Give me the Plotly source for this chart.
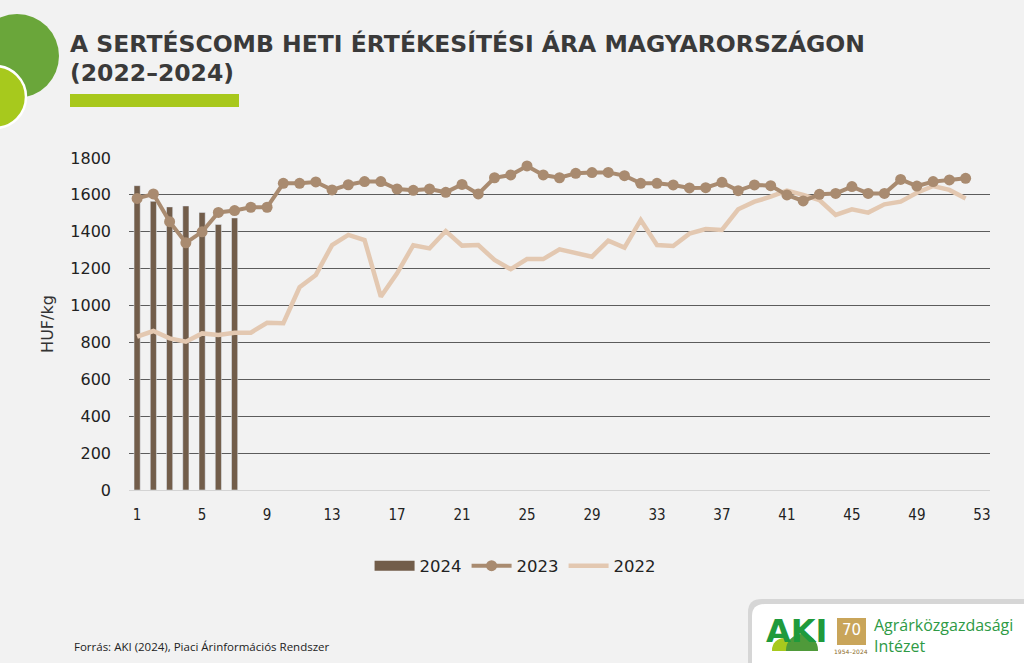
import plotly.graph_objects as go

# ---------------- data ----------------
weeks_2024 = [1, 2, 3, 4, 5, 6, 7]
vals_2024 = [1650, 1565, 1535, 1540, 1505, 1440, 1475]

weeks = list(range(1, 53))
vals_2023 = [1581, 1605, 1455, 1340, 1400, 1505, 1515, 1533, 1533, 1663,
             1663, 1670, 1627, 1655, 1672, 1672, 1632, 1625, 1632, 1614,
             1657, 1605, 1693, 1708, 1757, 1708, 1693, 1717, 1721, 1722,
             1704, 1663, 1663, 1654, 1638, 1639, 1668, 1623, 1654, 1650,
             1600, 1567, 1603, 1608, 1645, 1608, 1608, 1684, 1648, 1672,
             1681, 1690]
vals_2022 = [831, 862, 822, 804, 849, 840, 853, 853, 907, 904,
             1099, 1166, 1328, 1383, 1355, 1048, 1175, 1327, 1310, 1404,
             1325, 1328, 1247, 1197, 1252, 1252, 1305, 1283, 1265, 1352,
             1314, 1464, 1328, 1323, 1390, 1415, 1410, 1522, 1563, 1590,
             1623, 1600, 1572, 1491, 1522, 1504, 1549, 1563, 1612, 1648,
             1627, 1581]
x_ticks = list(range(1, 54, 4))
y_ticks = list(range(0, 1801, 200))

# ---------------- layout helpers ----------------
W, H = 1024, 663
L, R, T, B = 129, 990, 158, 490


def px(x):
    return (x - L) / (R - L)


def py(y):
    return (B - y) / (B - T)


BG = "#f2f2f2"
C24 = "#725d4a"
C23 = "#a98b70"
C22 = "#e3c8b1"
FONT = "DejaVu Sans"

fig = go.Figure()
fig.add_trace(go.Bar(x=weeks_2024, y=vals_2024, name="2024", marker_color=C24,
                     width=0.38, showlegend=False))
# legend-only entry giving the wide rectangular swatch of the 2024 series
fig.add_trace(go.Scatter(x=[None], y=[None], name="2024", mode="lines",
                         line=dict(color=C24, width=12), legendrank=1))
fig.add_trace(go.Scatter(x=weeks, y=vals_2022, name="2022", mode="lines",
                         line=dict(color=C22, width=4.5), legendrank=3))
fig.add_trace(go.Scatter(x=weeks, y=vals_2023, name="2023", mode="lines+markers",
                         line=dict(color=C23, width=4),
                         marker=dict(size=11, color=C23), legendrank=2))

shapes = []
# decorative circles top-left
shapes.append(dict(type="circle", xref="paper", yref="paper",
                   x0=px(17 - 42), x1=px(17 + 42), y0=py(56 + 42), y1=py(56 - 42),
                   fillcolor="#6aa63a", line=dict(width=0), layer="above"))
shapes.append(dict(type="circle", xref="paper", yref="paper",
                   x0=px(-5 - 31), x1=px(-5 + 31), y0=py(97 + 31), y1=py(97 - 31),
                   fillcolor="#a7c91d", line=dict(width=2.5, color="#ffffff"), layer="above"))
# lime underline under title
shapes.append(dict(type="rect", xref="paper", yref="paper",
                   x0=px(70), x1=px(239), y0=py(107), y1=py(94),
                   fillcolor="#a8c81c", line=dict(width=0), layer="above"))
# logo box shadow + box
shapes.append(dict(type="path", xref="paper", yref="paper",
                   path=(f"M {px(748)} {py(663)} L {px(748)} {py(612)} "
                         f"Q {px(748)} {py(599)} {px(762)} {py(599)} L {px(1024)} {py(599)} "
                         f"L {px(1024)} {py(663)} Z"),
                   fillcolor="#d6d6d6", line=dict(width=0), layer="above"))
shapes.append(dict(type="path", xref="paper", yref="paper",
                   path=(f"M {px(752)} {py(663)} L {px(752)} {py(616)} "
                         f"Q {px(752)} {py(604)} {px(765)} {py(604)} L {px(1024)} {py(604)} "
                         f"L {px(1024)} {py(663)} Z"),
                   fillcolor="#ffffff", line=dict(width=0), layer="above"))
# AKI small mounds
shapes.append(dict(type="circle", xref="paper", yref="paper",
                   x0=px(772), x1=px(796), y0=py(662), y1=py(638),
                   fillcolor="#a7c91d", line=dict(width=0), layer="above"))
shapes.append(dict(type="circle", xref="paper", yref="paper",
                   x0=px(786), x1=px(818), y0=py(666), y1=py(634),
                   fillcolor="#4f9a3a", line=dict(width=0), layer="above"))
shapes.append(dict(type="rect", xref="paper", yref="paper",
                   x0=px(752), x1=px(830), y0=py(663), y1=py(651),
                   fillcolor="#ffffff", line=dict(width=0), layer="above"))
# 70 emblem
shapes.append(dict(type="rect", xref="paper", yref="paper",
                   x0=px(837), x1=px(866), y0=py(645), y1=py(618),
                   fillcolor="#c9a55a", line=dict(width=0), layer="above"))

annotations = [
    dict(text="<b>A SERTÉSCOMB HETI ÉRTÉKESÍTÉSI ÁRA MAGYARORSZÁGON</b>",
         xref="paper", yref="paper", x=px(68), y=py(44), xanchor="left", yanchor="middle",
         showarrow=False, font=dict(family=FONT, size=23.5, color="#3a3a3a")),
    dict(text="<b>(2022–2024)</b>",
         xref="paper", yref="paper", x=px(68), y=py(73), xanchor="left", yanchor="middle",
         showarrow=False, font=dict(family=FONT, size=23.5, color="#3a3a3a")),
    dict(text="Forrás: AKI (2024), Piaci Árinformációs Rendszer",
         xref="paper", yref="paper", x=px(72), y=py(646), xanchor="left", yanchor="middle",
         showarrow=False, font=dict(family="Open Sans", size=11.5, color="#222222")),
    dict(text="<b>AKI</b>",
         xref="paper", yref="paper", x=px(764), y=py(631), xanchor="left", yanchor="middle",
         showarrow=False, font=dict(family=FONT, size=32, color="#1f9a3c")),
    dict(text="70",
         xref="paper", yref="paper", x=px(851), y=py(630), xanchor="center", yanchor="middle",
         showarrow=False, font=dict(family=FONT, size=15, color="#ffffff")),
    dict(text="1954–2024",
         xref="paper", yref="paper", x=px(851), y=py(651), xanchor="center", yanchor="middle",
         showarrow=False, font=dict(family=FONT, size=6, color="#8a6a2a")),
    dict(text="Agrárközgazdasági",
         xref="paper", yref="paper", x=px(872), y=py(625), xanchor="left", yanchor="middle",
         showarrow=False, font=dict(family="Open Sans", size=16, color="#2e9a45")),
    dict(text="Intézet",
         xref="paper", yref="paper", x=px(872), y=py(646), xanchor="left", yanchor="middle",
         showarrow=False, font=dict(family="Open Sans", size=16, color="#2e9a45")),
]

fig.update_layout(
    width=W, height=H,
    margin=dict(l=L, r=W - R, t=T, b=H - B, pad=0),
    paper_bgcolor=BG, plot_bgcolor=BG,
    showlegend=True,
    legend=dict(orientation="h", xref="container", yref="container",
                x=0.503, y=1 - 566 / H, xanchor="center", yanchor="middle",
                font=dict(family=FONT, size=16.5, color="#222222"),
                bgcolor="rgba(0,0,0,0)", itemwidth=40, traceorder="normal"),
    xaxis=dict(range=[0.5, 53.5], tickmode="array", tickvals=x_ticks,
               ticktext=[str(v) for v in x_ticks], showgrid=False, zeroline=False,
               showline=False, ticks="", ticklabelstandoff=14,
               tickfont=dict(family="Liberation Sans Narrow, DejaVu Sans Condensed", size=15,
                             color="#222222")),
    yaxis=dict(range=[0, 1800], tickmode="array", tickvals=y_ticks,
               showgrid=True, gridcolor="#5c5c5c", gridwidth=1.2,
               zeroline=True, zerolinecolor="#d4d4d4", zerolinewidth=1,
               showline=False, ticks="", ticklabelstandoff=17,
               tickfont=dict(family=FONT, size=16, color="#222222"),
               title=dict(text="HUF/kg", standoff=12,
                          font=dict(family=FONT, size=16, color="#333333"))),
    bargap=0.6,
    shapes=shapes,
    annotations=annotations,
)

fig.write_html("out.html")
